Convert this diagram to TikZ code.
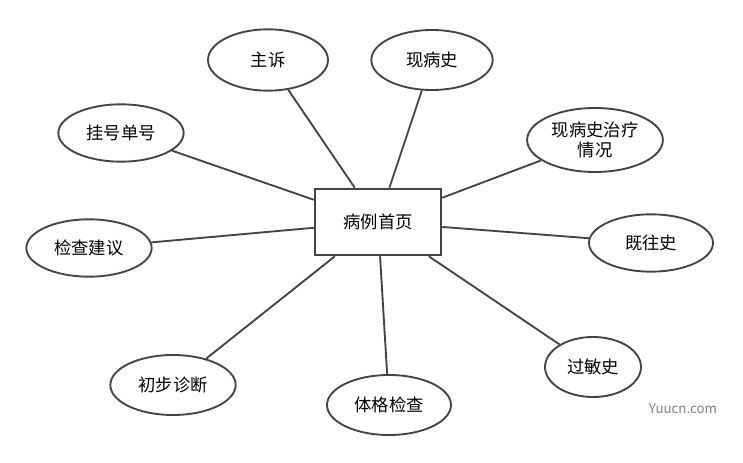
\documentclass[tikz,border=0pt]{standalone}
\usepackage{fontspec}
\setmainfont{Noto Sans CJK SC}
\usetikzlibrary{shapes.geometric}
\definecolor{linegray}{HTML}{444444}
\tikzset{
  topic/.style={draw=linegray,line width=1.4pt,ellipse,fill=white,inner sep=0pt,
    text centered,font=\fontsize{13}{15}\selectfont},
  hub/.style={draw=linegray,line width=1.4pt,rectangle,minimum width=95pt,minimum height=50pt,
    font=\fontsize{13}{15}\selectfont},
  link/.style={draw=linegray,line width=1.4pt}
}
\begin{document}
\begin{tikzpicture}[x=0.75pt,y=-0.75pt]
        \useasboundingbox (0,0) rectangle (743,463);
        \node[hub] (record) at (378,222) {病例首页};
        \node[topic,minimum width=90pt,minimum height=46pt] (complaint) at (268,60) {主诉};
        \node[topic,minimum width=91pt,minimum height=45pt] (present) at (432,60) {现病史};
        \node[topic,minimum width=94pt,minimum height=43pt] (regno) at (121,133) {挂号单号};
        \node[topic,minimum width=93pt,minimum height=48pt,text width=72pt,align=center]
        (treat) at (595,140) {\baselineskip=15pt 现病史治疗\\情况};
        \node[topic,minimum width=94pt,minimum height=43pt] (advice) at (89,248) {检查建议};
        \node[topic,minimum width=93pt,minimum height=43pt] (past) at (651,243) {既往史};
        \node[topic,minimum width=94pt,minimum height=45pt] (diag) at (173,385) {初步诊断};
        \node[topic,minimum width=93pt,minimum height=45pt] (exam) at (389,405) {体格检查};
        \node[topic,minimum width=72pt,minimum height=45pt] (allergy) at (593,367) {过敏史};
        \foreach \n in {complaint,present,regno,treat,advice,past,diag,exam,allergy}
          \draw[link] (\n) -- (record);
        \node[font=\fontsize{10}{12}\selectfont,text=gray] (mark) at (683,409) {Yuucn.com};
    \end{tikzpicture}
\end{document}
